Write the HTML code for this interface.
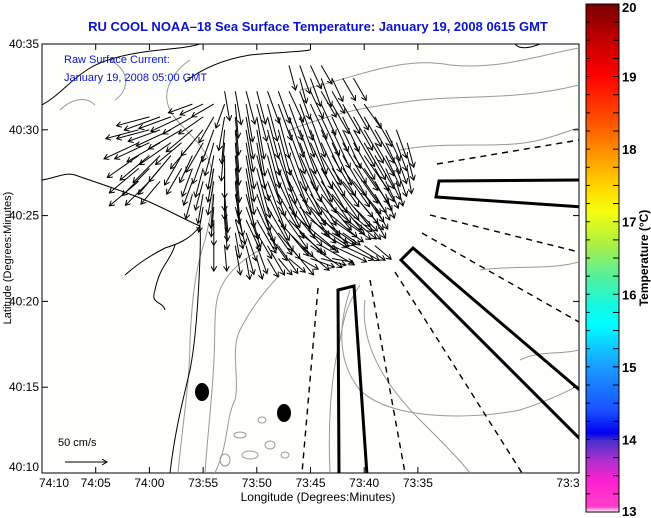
<!DOCTYPE html>
<html><head><meta charset="utf-8"><style>
body{margin:0;background:#fff;}
svg{display:block;font-family:"Liberation Sans",sans-serif;}
</style></head><body>
<svg id="chart" width="651" height="518" viewBox="0 0 651 518">
<defs>
<linearGradient id="cb" x1="0" y1="0" x2="0" y2="1">
<stop offset="0" stop-color="#7a0000"/><stop offset="0.07" stop-color="#c00000"/>
<stop offset="0.14" stop-color="#ff0000"/><stop offset="0.24" stop-color="#ff5a00"/>
<stop offset="0.3" stop-color="#ff9a00"/><stop offset="0.37" stop-color="#ffe000"/>
<stop offset="0.41" stop-color="#f4ff10"/><stop offset="0.47" stop-color="#b0f040"/>
<stop offset="0.54" stop-color="#50f0a0"/><stop offset="0.6" stop-color="#10f8e8"/>
<stop offset="0.63" stop-color="#00ffff"/><stop offset="0.71" stop-color="#1aa0ff"/>
<stop offset="0.8" stop-color="#1a50ff"/><stop offset="0.845" stop-color="#0000f0"/>
<stop offset="0.86" stop-color="#4a30c8"/><stop offset="0.9" stop-color="#b030d0"/>
<stop offset="0.94" stop-color="#ff20d0"/><stop offset="0.99" stop-color="#ff40c8"/>
<stop offset="1" stop-color="#ffffff"/>
</linearGradient>
<marker id="ah" markerWidth="6" markerHeight="6" refX="5" refY="3" orient="auto" markerUnits="userSpaceOnUse"><path d="M0,0 L5,3 L0,6" fill="none" stroke="#000" stroke-width="1"/></marker>
<clipPath id="pc"><rect x="42" y="44" width="537" height="429"/></clipPath>
</defs>
<text x="318" y="31" text-anchor="middle" font-size="13" font-weight="bold" fill="#0a14c8">RU COOL  NOAA–18  Sea Surface Temperature:  January 19, 2008 0615 GMT</text>
<rect x="42" y="44" width="537" height="429" fill="#fefefc" stroke="#000" stroke-width="1"/>
<g clip-path="url(#pc)">
<g fill="none" stroke="#999" stroke-width="1">
<path d="M178,473 C183,420 190,380 190,340 C192,300 195,270 205,240 C210,220 215,200 212,170 C205,140 180,130 170,110 C160,90 175,70 190,60"/>
<path d="M205,473 C208,430 212,400 214,360 C216,320 212,300 225,280 C235,265 250,255 260,250"/>
<path d="M215,473 C230,440 225,420 235,400 C240,380 230,350 240,330 C250,310 265,290 280,275"/>
<path d="M350,290 C340,320 335,360 360,390 C390,420 470,420 520,410 C550,400 570,390 579,385"/>
<path d="M365,300 C360,340 380,380 420,420 C440,440 460,460 470,473"/>
<path d="M330,473 C328,430 330,380 340,340 C345,310 350,300 360,285"/>
<path d="M300,90 C350,80 400,55 450,65 C500,70 540,55 579,48"/>
<path d="M290,130 C340,110 380,105 420,100 C470,95 520,100 579,85"/>
<path d="M400,150 C450,140 500,150 540,140 C560,135 570,130 579,128"/>
<path d="M480,270 C520,265 550,270 579,262"/>
<path d="M520,360 C540,350 560,355 579,350"/>
<path d="M60,110 C70,100 85,95 95,105 M110,60 C130,70 130,90 115,100"/>
<ellipse cx="240" cy="435" rx="6" ry="3"/><ellipse cx="270" cy="445" rx="5" ry="4"/><ellipse cx="250" cy="455" rx="8" ry="4"/><ellipse cx="225" cy="460" rx="5" ry="6"/><ellipse cx="285" cy="455" rx="4" ry="3"/><ellipse cx="262" cy="420" rx="4" ry="3"/>
</g>
<g fill="none" stroke="#000" stroke-width="1">
<path d="M170,473 C175,430 183,400 190,370 C196,340 198,300 199,280 C200,260 201,240 200,226"/>
<path d="M42,180 C55,178 65,172 75,175 C95,182 120,190 140,198 C165,208 185,220 200,226"/>
<path d="M200,226 C190,240 175,245 165,248 C150,256 140,262 125,275 M175,245 C170,262 160,265 155,290 C150,305 162,300 165,310"/>
<path d="M42,105 C60,95 70,80 90,68 C110,56 140,52 160,50 C180,48 190,47 200,44"/>
<path d="M185,82 C200,70 220,60 250,55 C280,52 300,52 310,50"/>
<path d="M515,44 C520,50 530,48 540,44"/>
</g>
<g fill="none" stroke="#000" stroke-width="1.4" stroke-dasharray="6,5">
<line x1="437" y1="164" x2="579" y2="140"/>
<line x1="430" y1="215" x2="579" y2="252"/>
<line x1="422" y1="233" x2="579" y2="322"/>
<line x1="395" y1="272" x2="522" y2="473"/>
<line x1="370" y1="280" x2="405" y2="473"/>
<line x1="318" y1="288" x2="302" y2="473"/>
</g>
<g fill="none" stroke="#000" stroke-width="3">
<polygon points="338,290 354,286 367,475 339,475"/>
<polygon points="401,260 413,248 582,392 582,441"/>
<polygon points="439,181 436,197 582,207 582,180"/>
</g>
<ellipse cx="202" cy="392" rx="7" ry="9" fill="#000"/>
<ellipse cx="284" cy="413" rx="7" ry="9" fill="#000"/>
<g id="arrows"></g>
</g>
<text x="64" y="63" font-size="11" fill="#0a14c8">Raw Surface Current:</text>
<text x="64" y="81" font-size="11" fill="#0a14c8">January 19, 2008 05:00 GMT</text>
<text x="58" y="446" font-size="11" fill="#000">50 cm/s</text>
<line x1="65" y1="462" x2="107" y2="462" stroke="#000" stroke-width="1" marker-end="url(#ah)"/>
<g id="xaxis"></g>
<g id="yaxis"></g>
<text x="318" y="501" text-anchor="middle" font-size="12">Longitude (Degrees:Minutes)</text>
<text transform="translate(11,258) rotate(-90)" text-anchor="middle" font-size="11">Latitude (Degrees:Minutes)</text>
<rect x="586" y="4" width="33" height="508" fill="url(#cb)" stroke="#000" stroke-width="1"/>
<g id="cbaxis"></g>
<text transform="translate(648,258) rotate(-90)" text-anchor="middle" font-size="12" font-weight="bold">Temperature (°C)</text>
</svg>
<script>
// Data
const xTickLabels = ["74:10","74:05","74:00","73:55","73:50","73:45","73:40","73:35"];
const xTickMinutesWest = [70,65,60,55,50,45,40,35];
const yTickLabels = ["40:10","40:15","40:20","40:25","40:30","40:35"];
const yTickMinutes = [10,15,20,25,30,35];
const cbValues = [13,14,15,16,17,18,19,20];
// arrow rows: latitude (minutes past 40:00) and vectors "dir/speed" for lon 73:61..73:36 (minutes west of 73:00, step 1)
const arrowRowLat = [33.75,33,32.25,31.5,30.75,30,29.25,28.5,27.75,27,26.25,25.5,24.75,24,23.25,22.5];
const arrowStartLon = 61;
const arrowRowVec = [
"- - - - - - - - - - - - - - 165/30 160/35 155/30 150/25 - - - - - - - -",
"- - - - - - - - - - - - - - - 165/30 160/35 160/35 155/30 150/30 150/30 - - - - -",
"- - - - - - - - 170/35 170/40 165/40 165/40 160/40 160/40 155/40 160/35 155/35 150/35 150/30 - - - - - - -",
"- - - - - 250/30 245/30 240/30 200/30 175/40 170/45 165/45 165/45 160/45 160/45 160/45 155/45 155/40 150/40 150/40 150/35 145/35 - - - -",
"- 255/40 250/45 250/40 245/40 240/40 235/35 210/35 190/40 175/45 170/50 170/50 165/50 165/50 160/50 160/50 160/50 155/50 155/45 155/45 150/45 150/40 150/40 - - -",
"255/40 255/40 250/40 245/45 240/45 230/40 220/40 200/40 185/40 175/50 170/50 170/55 165/55 165/55 160/55 160/55 160/55 155/55 155/50 155/50 150/50 150/45 150/45 155/40 160/35 -",
"245/45 245/45 240/45 235/45 230/40 220/40 210/40 195/40 185/45 175/50 170/55 170/55 165/55 165/60 160/60 160/60 155/60 155/55 155/55 150/55 150/50 150/50 150/45 155/40 160/35 165/30",
"235/45 230/45 225/45 220/40 210/40 205/35 200/35 190/40 180/50 175/55 170/55 165/55 165/60 160/60 160/60 155/60 155/60 150/55 150/55 150/55 145/50 145/50 150/45 155/40 160/35 165/30",
"230/45 225/45 220/40 - 210/35 200/35 195/35 190/40 180/50 175/55 170/55 165/60 160/60 160/60 155/60 155/60 150/60 150/60 145/55 145/55 145/50 145/50 150/45 155/40 160/35 170/30",
"230/45 225/40 220/35 - - 200/30 195/35 190/40 180/45 175/50 170/55 165/60 160/60 155/60 155/60 150/60 150/60 145/60 145/55 140/55 140/50 145/45 150/40 155/35 165/30 -",
"- - - - - 195/30 190/35 185/40 175/45 170/50 165/55 160/60 155/60 150/60 150/60 145/60 145/60 140/55 140/55 140/50 140/45 145/40 150/35 160/30 - -",
"- - - - - - 190/30 185/35 175/40 165/45 160/50 155/55 150/60 145/60 140/60 135/60 135/60 130/55 130/50 130/45 135/40 140/35 150/30 - - -",
"- - - - - - - 180/30 175/35 165/35 155/40 150/45 145/50 140/55 135/55 130/55 125/55 125/50 125/45 125/40 130/35 140/30 150/25 - - -",
"- - - - - - - - - 170/30 160/35 150/35 145/40 140/40 135/40 130/40 125/40 120/35 120/30 125/25 - - - - - -",
"- - - - - - - 180/30 175/30 170/35 165/35 160/35 150/40 145/40 140/45 130/45 125/45 120/45 115/45 115/40 120/35 125/30 130/25 - - -",
"- - - - - - - - - - 170/25 165/25 150/25 140/25 130/25 120/25 110/30 105/30 100/25 - - - - - - -"
];
// Axis functions
function xOf(mw){return 42+(70-mw)*10.74;}
function yOf(lat){return 473-(lat-10)*17.16;}
function cbY(t){return 512-(t-13)*(508/7);}
const NS="http://www.w3.org/2000/svg";
function mk(tag,attrs,parent){const e=document.createElementNS(NS,tag);for(const k in attrs)e.setAttribute(k,attrs[k]);parent.appendChild(e);return e;}
const xa=document.getElementById('xaxis');
xTickMinutesWest.forEach((m,i)=>{
  const x=xOf(m);
  const t=mk('line',{x1:x,y1:473,x2:x,y2:467,stroke:'#000'},xa);
  
  
  const t2=mk('line',{x1:x,y1:44,x2:x,y2:50,stroke:'#000'},xa);
  
  
  const lb=mk('text',{x:i===0?x+12:x,y:487,'text-anchor':'middle','font-size':12},xa);
  lb.textContent=xTickLabels[i];
  
  
});
const lastLb=mk('text',{x:568,y:487,'text-anchor':'middle','font-size':12},xa);
lastLb.textContent="73:3";


const ya=document.getElementById('yaxis');
yTickMinutes.forEach((m,i)=>{
  const y=yOf(m);
  const t=mk('line',{x1:42,y1:y,x2:48,y2:y,stroke:'#000'},ya);
  
  
  const t2=mk('line',{x1:579,y1:y,x2:573,y2:y,stroke:'#000'},ya);
  
  
  const lb=mk('text',{x:39,y:(i===0?y-2:y+4),'text-anchor':'end','font-size':12},ya);
  lb.textContent=yTickLabels[i];
  
  
});
const cba=document.getElementById('cbaxis');
for(let v=13;v<=20.001;v+=0.25){
  const y=cbY(v);
  const t=mk('line',{x1:613,y1:y,x2:619,y2:y,stroke:'#000'},cba);
  
  
  const t2=mk('line',{x1:586,y1:y,x2:590,y2:y,stroke:'#000'},cba);
  
  
}
cbValues.forEach(v=>{
  const y=cbY(v);
  const lb=mk('text',{x:622,y:(v===20?y+8:(v===13?y+4:y+5)),'font-size':13,'font-weight':'bold'},cba);
  lb.textContent=String(v);
  
  
});
const ag=document.getElementById('arrows');
const pxPerCms=0.85;
arrowRowVec.forEach((row,ri)=>{
  const lat=arrowRowLat[ri];
  row.split(' ').forEach((tok,ci)=>{
    if(tok==='-')return;
    const [dir,spd]=tok.split('/').map(Number);
    const x=xOf(arrowStartLon-ci), y=yOf(lat);
    const a=dir*Math.PI/180, L=spd*pxPerCms;
    const x2=x+Math.sin(a)*L, y2=y-Math.cos(a)*L;
    const ln=mk('line',{x1:x.toFixed(1),y1:y.toFixed(1),x2:x2.toFixed(1),y2:y2.toFixed(1),stroke:'#000','stroke-width':1,'marker-end':'url(#ah)'},ag);
    
    
  });
});
</script>
</body></html>
